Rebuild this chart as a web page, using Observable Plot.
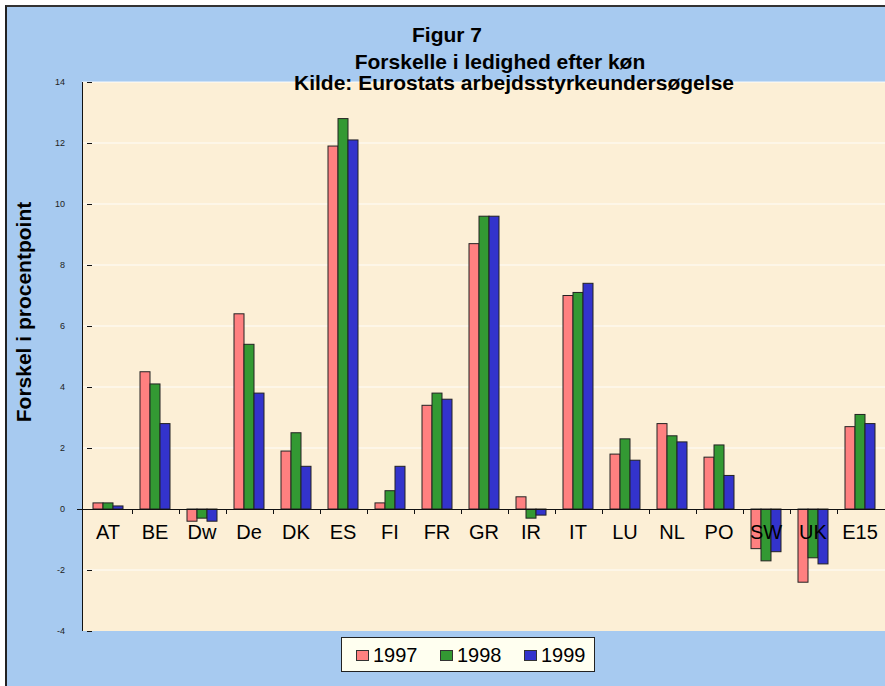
<!DOCTYPE html>
<html>
<head>
<meta charset="utf-8">
<script src="https://cdn.jsdelivr.net/npm/d3@7"></script>
<script src="https://cdn.jsdelivr.net/npm/@observablehq/plot@0.6"></script>
<style>
  html, body { margin: 0; padding: 0; background: #fff; }
  #wrap { position: relative; width: 885px; height: 686px; overflow: hidden; background: #fff; font-family: Arial, "Liberation Sans", sans-serif; }
  #panel { position: absolute; left: 5px; top: 5px; right: -10px; bottom: -10px; background: #A7CAF0; border-left: 2px solid #222; border-top: 2px solid #333; }
  #chart { position: absolute; left: 0; top: 0; }
  #legend { position: absolute; left: 341px; top: 637px; width: 254px; height: 35px; background: #FFFFF0; border: 1px solid #222; box-sizing: border-box; font-size: 20px; }
  .li { position: absolute; top: 6px; height: 22px; line-height: 22px; }
  .sw { position: absolute; top: 6px; width: 11px; height: 9px; border: 1px solid #333; }
  .lt { position: absolute; left: 17px; top: 0; }
</style>
</head>
<body>
<div id="wrap">
  <div id="panel"></div>
  <div id="chart"></div>
  <div id="legend"></div>
</div>
<script>
const categories = ["AT","BE","Dw","De","DK","ES","FI","FR","GR","IR","IT","LU","NL","PO","SW","UK","E15"];
const years = ["1997","1998","1999"];
const values1997 = [0.2, 4.5, -0.4, 6.4, 1.9, 11.9, 0.2, 3.4, 8.7, 0.4, 7.0, 1.8, 2.8, 1.7, -1.3, -2.4, 2.7];
const values1998 = [0.2, 4.1, -0.3, 5.4, 2.5, 12.8, 0.6, 3.8, 9.6, -0.3, 7.1, 2.3, 2.4, 2.1, -1.7, -1.6, 3.1];
const values1999 = [0.1, 2.8, -0.4, 3.8, 1.4, 12.1, 1.4, 3.6, 9.6, -0.2, 7.4, 1.6, 2.2, 1.1, -1.4, -1.8, 2.8];
const yTicks = [-4, -2, 0, 2, 4, 6, 8, 10, 12, 14];
const colors = ["#FF8080", "#339933", "#3333CC"];
const yLabel = "Forskel i procentpoint";
const titles = ["Figur 7", "Forskelle i ledighed efter køn", "Kilde: Eurostats arbejdsstyrkeundersøgelse"];

const series = [values1997, values1998, values1999];
const data = [];
categories.forEach((c, i) => years.forEach((y, j) => data.push({cat: c, year: y, value: series[j][i]})));

const W = 885, H = 686;
const plot = Plot.plot({
  width: W,
  height: H,
  marginLeft: 82,
  marginRight: 0,
  marginTop: 82,
  marginBottom: 55,
  style: {background: "transparent", fontFamily: "Arial, 'Liberation Sans', sans-serif", overflow: "visible"},
  fx: {domain: categories, paddingInner: 0.32, paddingOuter: 0.16, axis: null, label: null},
  x: {domain: years, padding: 0, axis: null, label: null},
  y: {domain: [-4, 14], label: null},
  color: {domain: years, range: colors},
  marks: [
    Plot.axisY({ticks: yTicks, tickSize: 5, tickPadding: 13, tickFormat: d => d, fontSize: 9, label: null, anchor: "left", stroke: "#111", color: "#222"}),
    Plot.barY(data, {fx: "cat", x: "year", y: "value", fill: "year", stroke: "#222", strokeWidth: 1, inset: 0})
  ]
});

const svg = d3.select(plot);
const fx = plot.scale("fx");
const ys = plot.scale("y");
const yOf = v => ys.apply(v);
const pLeft = 82, pRight = W;
const pTop = yOf(14), pBottom = yOf(-4);

// move y tick labels so their right edge sits ~17px left of the axis
svg.selectAll("g[aria-label='y-axis tick label'] text").each(function() {
  const el = this;
  const bb = el.getBBox();
  const ctm = el.getCTM();
  const rightEdge = ctm ? ctm.e + (bb.x + bb.width) : null;
  if (rightEdge !== null) el.setAttribute("x", (+el.getAttribute("x") || 0) + (pLeft - 17 - rightEdge));
});

// plot-area background and grid (inserted behind marks)
const bg = svg.insert("g", ":first-child");
bg.append("rect").attr("x", pLeft).attr("y", pTop).attr("width", pRight - pLeft).attr("height", pBottom - pTop).attr("fill", "#FCEFD6");
yTicks.filter(t => t !== 0 && t !== -4).forEach(t => {
  bg.append("line").attr("x1", pLeft).attr("x2", pRight).attr("y1", yOf(t)).attr("y2", yOf(t)).attr("stroke", "#ffffff").attr("stroke-opacity", 0.9).attr("stroke-width", 1);
});

// axes lines
const ax = svg.append("g").attr("stroke", "#111");
ax.append("line").attr("x1", pLeft + 0.5).attr("x2", pLeft + 0.5).attr("y1", pTop).attr("y2", pBottom);
ax.append("line").attr("x1", pLeft - 5).attr("x2", pRight).attr("y1", yOf(0) + 0.5).attr("y2", yOf(0) + 0.5);
const bw = fx.bandwidth;
const step = fx.step;
categories.forEach((c, i) => {
  const bx = Math.round(fx.apply(c) - (step - bw) / 2) + 0.5;
  if (i > 0) ax.append("line").attr("x1", bx).attr("x2", bx).attr("y1", yOf(0)).attr("y2", yOf(0) + 5);
});
// category labels
const lab = svg.append("g").attr("font-size", 20).attr("fill", "#000").attr("text-anchor", "middle");
categories.forEach(c => {
  lab.append("text").attr("x", fx.apply(c) + bw / 2).attr("y", yOf(0) + 30).text(c);
});
// y label
svg.append("text").attr("transform", `translate(31,312) rotate(-90)`).attr("text-anchor", "middle")
  .attr("font-size", 21).attr("font-weight", "bold").attr("fill", "#000").text(yLabel);
// titles
const tg = svg.append("g").attr("font-weight", "bold").attr("fill", "#000").attr("text-anchor", "middle");
tg.append("text").attr("x", 447).attr("y", 42).attr("font-size", 21).text(titles[0]);
tg.append("text").attr("x", 500).attr("y", 69).attr("font-size", 21).text(titles[1]);
tg.append("text").attr("x", 514).attr("y", 90).attr("font-size", 21).text(titles[2]);

document.getElementById("chart").appendChild(plot);

// re-align y tick labels after attachment (getBBox needs layout)
svg.selectAll("g[aria-label='y-axis tick label'] text").each(function() {
  const el = this;
  const bb = el.getBBox();
  const m = el.getCTM();
  if (!m || bb.width === 0) return;
  const svgM = plot.getCTM ? plot.getCTM() : null;
  const right = m.e - (svgM ? svgM.e : 0) + bb.x + bb.width;
  el.setAttribute("x", (+el.getAttribute("x") || 0) + (pLeft - 17 - right));
});

// legend
const leg = document.getElementById("legend");
years.forEach((y, j) => {
  const d = document.createElement("div");
  d.className = "li";
  d.style.left = (14 + j * 84) + "px";
  const s = document.createElement("div");
  s.className = "sw";
  s.style.background = colors[j];
  d.appendChild(s);
  const t = document.createElement("span");
  t.className = "lt";
  t.textContent = y;
  d.appendChild(t);
  leg.appendChild(d);
});
</script>
</body>
</html>
